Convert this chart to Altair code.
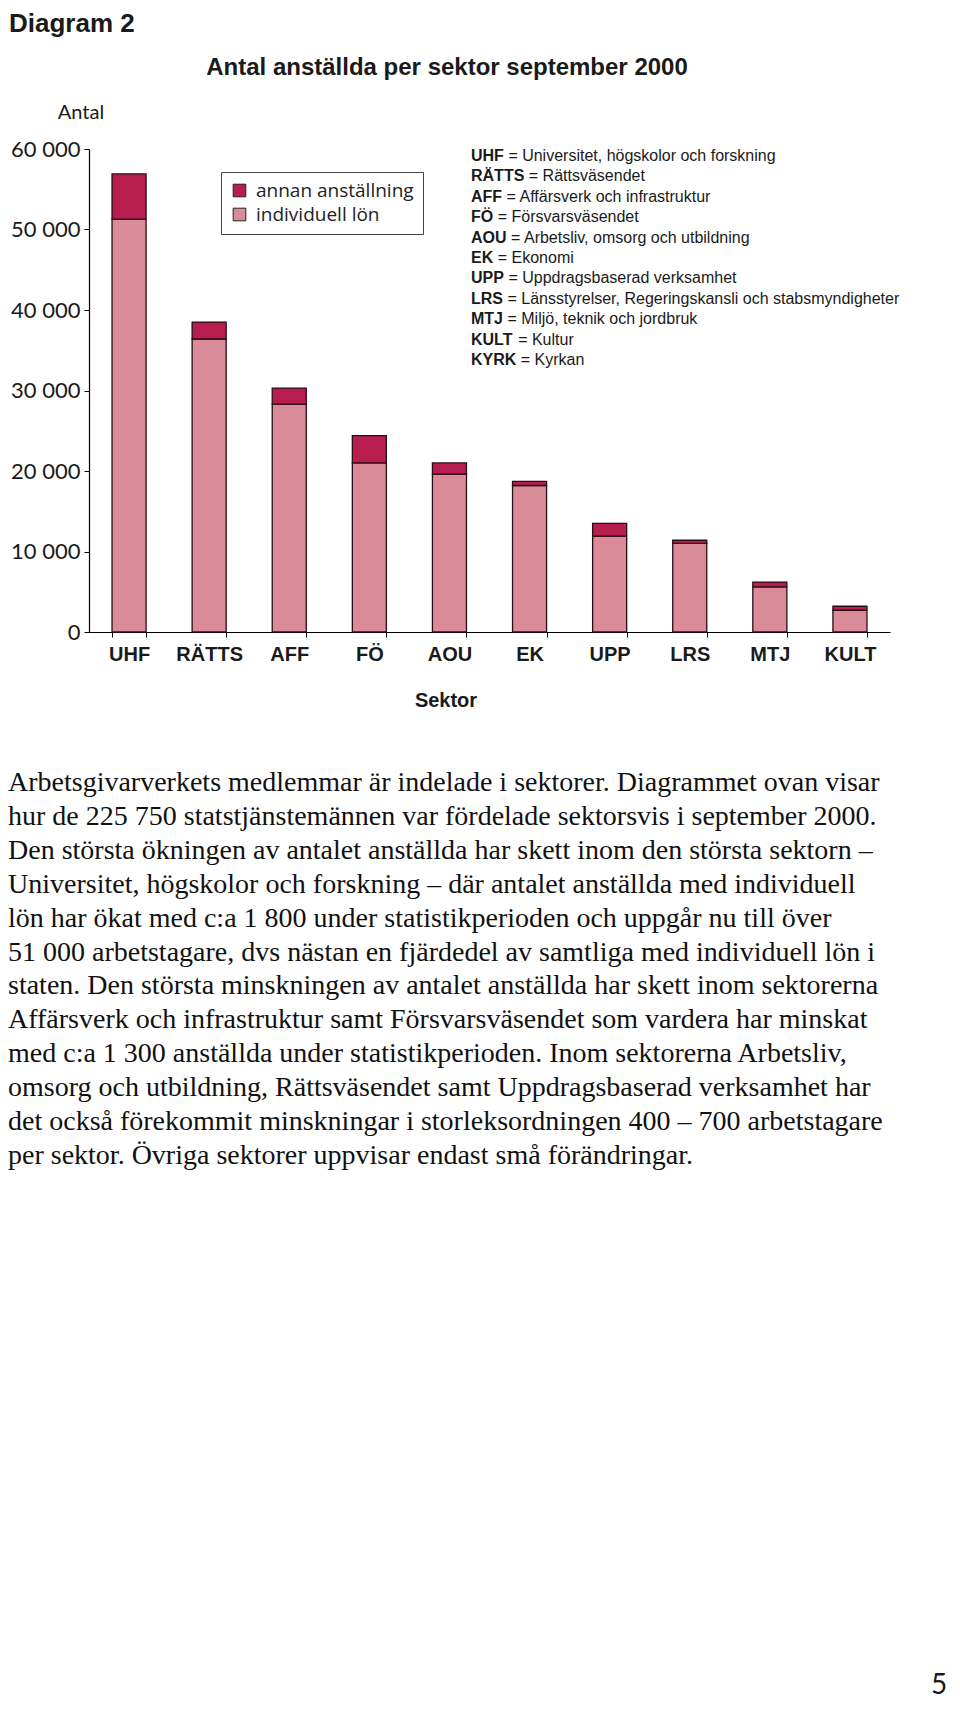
import altair as alt
import pandas as pd

# ---- data ----
sektorer = ["UHF", "RÄTTS", "AFF", "FÖ", "AOU", "EK", "UPP", "LRS", "MTJ", "KULT"]
individuell_lon = [51300, 36400, 28300, 21000, 19600, 18200, 11900, 11000, 5600, 2700]
annan_anstallning = [5600, 2100, 2000, 3400, 1400, 500, 1600, 400, 600, 500]
serier = ["annan anställning", "individuell lön"]
y_ticks = [0, 10000, 20000, 30000, 40000, 50000, 60000]

forkortningar = ["UHF", "RÄTTS", "AFF", "FÖ", "AOU", "EK", "UPP", "LRS", "MTJ", "KULT", "KYRK"]
beskrivningar = [
    "Universitet, högskolor och forskning",
    "Rättsväsendet",
    "Affärsverk och infrastruktur",
    "Försvarsväsendet",
    "Arbetsliv, omsorg och utbildning",
    "Ekonomi",
    "Uppdragsbaserad verksamhet",
    "Länsstyrelser, Regeringskansli och stabsmyndigheter",
    "Miljö, teknik och jordbruk",
    "Kultur",
    "Kyrkan",
]

body_lines = [
    "Arbetsgivarverkets medlemmar är indelade i sektorer. Diagrammet ovan visar",
    "hur de 225 750 statstjänstemännen var fördelade sektorsvis i september 2000.",
    "Den största ökningen av antalet anställda har skett inom den största sektorn –",
    "Universitet, högskolor och forskning – där antalet anställda med individuell",
    "lön har ökat med c:a  1 800 under statistikperioden och uppgår nu till över",
    "51 000 arbetstagare, dvs nästan en fjärdedel av samtliga med individuell lön i",
    "staten. Den största minskningen av antalet anställda har skett inom sektorerna",
    "Affärsverk och infrastruktur samt Försvarsväsendet som vardera har minskat",
    "med c:a 1 300 anställda under statistikperioden. Inom sektorerna Arbetsliv,",
    "omsorg och utbildning, Rättsväsendet samt Uppdragsbaserad verksamhet har",
    "det också förekommit minskningar i storleksordningen 400 – 700 arbetstagare",
    "per sektor. Övriga sektorer uppvisar endast små förändringar.",
]

# ---- table ----
rows = []
for s, ind, ann in zip(sektorer, individuell_lon, annan_anstallning):
    rows.append({"sektor": s, "typ": "individuell lön", "antal": ind, "ordning": 0})
    rows.append({"sektor": s, "typ": "annan anställning", "antal": ann, "ordning": 1})
df = pd.DataFrame(rows)

CRIMSON = "#b81d4f"
PINK = "#d98c97"
SANS = "Lato"
BOLD = "Liberation Sans"
W, H = 801, 483

bars = alt.Chart(df).mark_bar(stroke="#2b0b16", strokeWidth=1.3).encode(
    x=alt.X(
        "sektor:N",
        sort=sektorer,
        scale=alt.Scale(paddingInner=0.575, paddingOuter=0.2875),
        axis=alt.Axis(
            title=None, labelAngle=0, labelFont=BOLD, labelFontSize=20,
            labelFontWeight="bold", labelColor="#1a1a1a", labelPadding=7,
            tickBand="extent", tickSize=5, tickColor="#000", domainColor="#000",
            domainWidth=1.2, grid=False,
        ),
    ),
    y=alt.Y(
        "antal:Q",
        stack="zero",
        scale=alt.Scale(domain=[0, 60000], nice=False),
        axis=alt.Axis(
            values=y_ticks, title=None,
            labelExpr="replace(format(datum.value, ','), ',', ' ')",
            labelFont=SANS, labelFontSize=22, labelColor="#1a1a1a",
            labelPadding=4, tickSize=5, tickColor="#000", domainColor="#000",
            domainWidth=1.2, grid=False,
        ),
    ),
    color=alt.Color(
        "typ:N",
        scale=alt.Scale(domain=serier, range=[CRIMSON, PINK]),
        legend=alt.Legend(
            title=None, orient="none", legendX=132, legendY=23,
            strokeColor="#444", fillColor="white", padding=9,
            symbolType="square", symbolSize=160, symbolStrokeColor="#222",
            symbolStrokeWidth=1, symbolOpacity=1, labelFont="Open Sans",
            labelFontSize=19, labelColor="#222", rowPadding=4, labelOffset=7,
            labelLimit=300,
        ),
    ),
    order=alt.Order("ordning:Q", sort="ascending"),
)

base = alt.Chart(alt.Data(values=[{"a": 1}]))


def txt(text, x, y, size, weight="normal", align="left", font=SANS, baseline="middle", color="#1a1a1a", **kw):
    return base.mark_text(
        text=text, align=align, baseline=baseline, font=font, fontSize=size,
        fontWeight=weight, color=color, **kw
    ).encode(x=alt.value(x), y=alt.value(y))


layers = [bars]
# headings
layers.append(txt("Diagram 2", -80, -125, 26, weight="bold", font=BOLD))
layers.append(txt("Antal anställda per sektor september 2000", 358, -81, 24, weight="bold", align="center", font=BOLD))
layers.append(txt("Antal", -8, -36, 20, align="center"))
layers.append(txt("Sektor", 357, 552, 20, weight="bold", align="center", font=BOLD))

# abbreviation list (bold abbreviation + regular description)
bold_w = {"A": 722, "E": 667, "F": 611, "H": 722, "J": 556, "K": 722, "L": 611,
          "M": 833, "O": 778, "P": 667, "R": 722, "S": 667, "T": 611, "U": 722,
          "Y": 667, "Ä": 722, "Ö": 778}
FS = 16
for i, (ab, desc) in enumerate(zip(forkortningar, beskrivningar)):
    y = 7 + 20.4 * i
    w = sum(bold_w.get(c, 650) for c in ab) * FS / 1000.0
    layers.append(txt(ab, 382, y, FS, weight="bold", font=BOLD))
    layers.append(txt("= " + desc, 382 + w + 4.5, y, FS, font=BOLD))

# body text (first line centre, further lines follow with lineHeight)
layers.append(txt(body_lines, -81, 634, 28, font="Liberation Serif", lineHeight=33.9, color="#111"))

# page number
layers.append(txt("5", 850, 1537, 28, align="center"))

chart = alt.layer(*layers).properties(
    width=W, height=H,
    padding={"left": 81, "top": 141, "right": 62, "bottom": 1072},
    autosize=alt.AutoSizeParams(type="none"),
).configure_view(stroke=None)

chart.save("out.html", embed_options={"renderer": "svg", "actions": False})
